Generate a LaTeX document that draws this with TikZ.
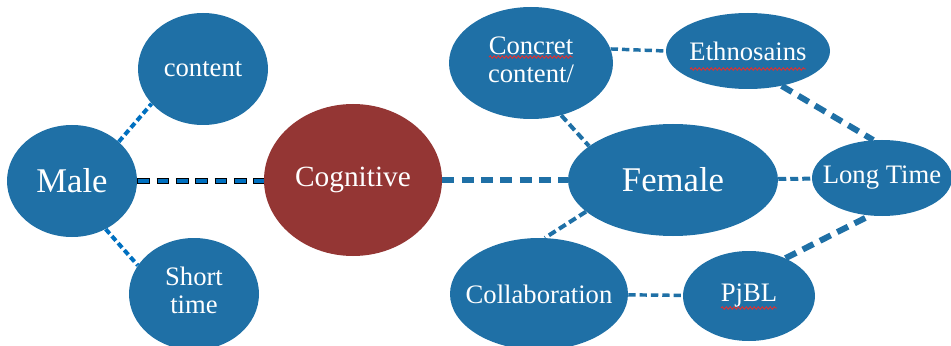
\documentclass[tikz,border=0pt]{standalone}
\usepackage{fontspec}
\setmainfont{Liberation Serif}
\usetikzlibrary{shapes.geometric,decorations.pathmorphing}
\definecolor{nodeblue}{HTML}{1F70A6}
\definecolor{nodered}{HTML}{943634}
\definecolor{lineblue}{HTML}{0070C0}
\definecolor{spellred}{HTML}{E03030}
\newcommand{\ctext}[1]{\makebox[0pt]{#1}}
\newcommand{\ctwo}[2]{\makebox[0pt]{\begin{tabular}{@{}c@{}}#1\\#2\end{tabular}}}

\begin{document}
\begin{tikzpicture}[x=0.75pt, y=-0.75pt,
  main node/.style={ellipse, fill=nodeblue, text=white, inner sep=0pt, font=\fontsize{20}{21}\selectfont},
  ellsize/.style 2 args={minimum width=#1*1.5pt, minimum height=#2*1.5pt},
  link/.style={draw=nodeblue, line width=3pt, dash pattern=on 6pt off 3pt},
  thin link/.style={draw=nodeblue, line width=2.6pt, dash pattern=on 5.5pt off 3pt},
  wide link/.style={draw=nodeblue, line width=4.5pt, dash pattern=on 9pt off 5.5pt},
  male link/.style={draw=lineblue, line width=3pt, dash pattern=on 4.5pt off 2.5pt},
  core link/.style={draw=black, line width=4pt, dash pattern=on 9.5pt off 5pt,
    postaction={draw=lineblue, line width=2.4pt, dash pattern=on 7.9pt off 6.6pt, shorten <=0.8pt}},
  spell/.style={draw=spellred, line width=0.7pt, decorate, decoration={snake, segment length=3pt, amplitude=0.9pt}}]

\useasboundingbox (0,0) rectangle (951,346);

\node[main node, ellsize={65}{56}, font=\fontsize{26}{28}\selectfont](1) at (72,181) {\ctext{Male}};
\node[main node, ellsize={65}{56}](2) at (203,69) {\ctext{content}};
\node[main node, ellsize={65}{56}](3) at (194,294) {\ctwo{Short}{time}};
\node[main node, ellsize={89}{76}, fill=nodered, font=\fontsize{22}{24}\selectfont](4) at (353,180) {\ctext{Cognitive}};
\node[main node, ellsize={82}{56}](5) at (531,63) {\ctwo{Concret}{content/}};
\node[main node, ellsize={82}{38}](6) at (748,51) {\ctext{Ethnosains}};
\node[main node, ellsize={105}{56}, font=\fontsize{26}{28}\selectfont](7) at (673,180) {\ctext{Female}};
\node[main node, ellsize={70}{38}](8) at (882,178) {\ctext{Long Time}};
\node[main node, ellsize={89}{56}](9) at (539,294) {\ctext{Collaboration}};
\node[main node, ellsize={66}{45}](10) at (749,296) {\ctext{PjBL}};

% spelling marks
\draw[spell] ([shift={(-42,-6)}]5.center) -- ++(84,0);
\draw[spell] ([shift={(-58,18)}]6.center) -- ++(116,0);
\draw[spell] ([shift={(-28,12)}]10.center) -- ++(56,0);

\draw[male link] (1.40) to (2.214);
\draw[male link] (1.-55) to (3.153);
\draw[core link] (1.east) to (1.east -| 4.west);
\draw[wide link] (4) to (7);
\draw[link] (5.-60) to (7.158);
\draw[thin link] (5.10) to (6.180);
\draw[wide link] (6.-46) to (8.103);
\draw[link] (7) to (8);
\draw[link] (7.200) to (9.84);
\draw[thin link] (9) to (10);
\draw[wide link] (10.46) to (8.252);

\end{tikzpicture}
\end{document}
